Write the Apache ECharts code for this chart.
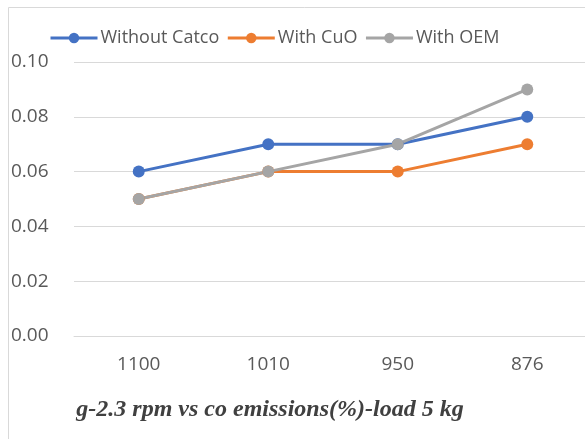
<!DOCTYPE html>
<html>
<head>
<meta charset="utf-8">
<script src="https://cdn.jsdelivr.net/npm/echarts@6/dist/echarts.min.js"></script>
<style>
html,body{margin:0;padding:0;background:#fff;overflow:hidden;}
#chart{width:600px;height:439px;}
</style>
</head>
<body>
<div id="chart"></div>
<script>
// Engine speed categories (rpm)
const categories = ['1100', '1010', '950', '876'];
// CO emissions (%) per configuration
const withoutCatco = [0.06, 0.07, 0.07, 0.08];
const withCuO = [0.05, 0.06, 0.06, 0.07];
const withOEM = [0.05, 0.06, 0.07, 0.09];
const seriesNames = ['Without Catco', 'With CuO', 'With OEM'];
const colors = ['#4472C4', '#ED7D31', '#A5A5A5'];

const chart = echarts.init(document.getElementById('chart'), null, {renderer: 'canvas'});

function lineSeries(name, data, color) {
  return {
    name: name,
    type: 'line',
    data: data,
    symbol: 'circle',
    symbolSize: 12,
    lineStyle: {width: 3, color: color},
    itemStyle: {color: color},
    emphasis: {disabled: true},
    animation: false
  };
}

const labelFont = {fontFamily: 'Open Sans', fontSize: 19, color: '#595959'};

chart.setOption({
  animation: false,
  color: colors,
  graphic: [{
    type: 'polyline',
    shape: {points: [[8.5, 439], [8.5, 7.5], [600, 7.5]]},
    style: {stroke: '#d9d9d9', lineWidth: 1, fill: null},
    silent: true
  }, {
    type: 'text',
    style: {
      text: 'g-2.3 rpm vs co emissions(%)-load 5 kg',
      font: 'italic bold 24px "Liberation Serif"',
      fill: '#404040',
      x: 270, y: 410,
      align: 'center',
      verticalAlign: 'middle'
    },
    silent: true
  }],
  legend: {
    data: seriesNames,
    top: 29,
    left: 49,
    padding: 0,
    itemWidth: 47,
    itemHeight: 13,
    itemGap: 7,
    lineStyle: {width: 3},
    textStyle: {fontFamily: 'Open Sans', fontSize: 18, color: '#595959', padding: [0, 0, 0, -2]}
  },
  grid: {left: 74, top: 62, width: 518, height: 274, containLabel: false},
  xAxis: {
    type: 'category',
    data: categories,
    boundaryGap: true,
    axisLine: {show: true, lineStyle: {color: '#d9d9d9'}},
    axisTick: {show: false},
    axisLabel: Object.assign({}, labelFont, {margin: 19})
  },
  yAxis: {
    type: 'value',
    min: 0,
    max: 0.10,
    interval: 0.02,
    axisLine: {show: false},
    axisTick: {show: false},
    splitLine: {lineStyle: {color: '#d9d9d9', width: 1}},
    axisLabel: Object.assign({}, labelFont, {
      align: 'left', margin: 63,
      formatter: v => v.toFixed(2)
    })
  },
  series: [
    lineSeries(seriesNames[0], withoutCatco, colors[0]),
    lineSeries(seriesNames[1], withCuO, colors[1]),
    lineSeries(seriesNames[2], withOEM, colors[2])
  ]
});
</script>
</body>
</html>
